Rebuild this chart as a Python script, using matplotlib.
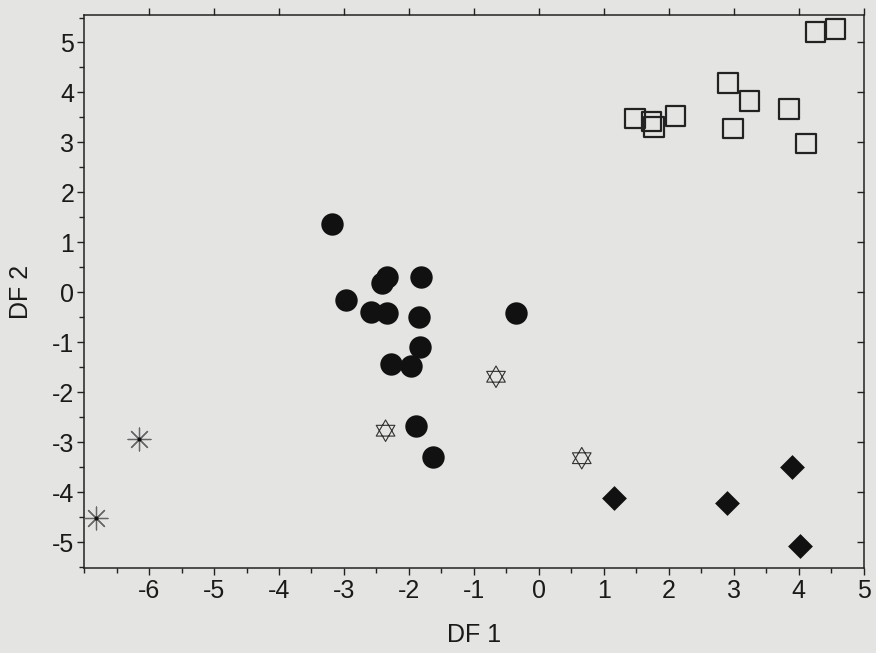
import numpy as np
import matplotlib.pyplot as plt
from matplotlib.path import Path
from matplotlib.ticker import MultipleLocator

plt.rcParams['font.family'] = ['Liberation Sans', 'DejaVu Sans']
plt.rcParams['axes.unicode_minus'] = False

# Gruppe 1: gefuellte Kreise
circ_x = [-3.18, -2.34, -2.41, -1.82, -2.97, -2.59, -2.34, -1.85, -0.35,
          -1.83, -2.27, -1.97, -1.89, -1.63]
circ_y = [1.36, 0.30, 0.18, 0.31, -0.15, -0.40, -0.42, -0.49, -0.42,
          -1.10, -1.43, -1.48, -2.67, -3.30]

# Gruppe 2: offene Quadrate
sq_x = [1.48, 1.73, 1.77, 2.10, 2.91, 3.24, 2.99, 3.85, 4.11, 4.26, 4.57]
sq_y = [3.48, 3.42, 3.31, 3.53, 4.19, 3.83, 3.28, 3.67, 2.98, 5.21, 5.27]

# Gruppe 3: Davidsterne
star_x = [-0.66, -2.36, 0.66]
star_y = [-1.69, -2.77, -3.32]

# Gruppe 4: Rauten
dia_x = [1.15, 2.90, 3.90, 4.02]
dia_y = [-4.12, -4.22, -3.49, -5.07]

# Gruppe 5: Sternchen
ast_x = [-6.16, -6.81]
ast_y = [-2.94, -4.52]

x_ticks = list(range(-6, 6))
y_ticks = list(range(-5, 6))

# Hexagramm als eigener Marker (zwei Dreiecke)
ang_up = np.deg2rad([90, 210, 330])
ang_dn = np.deg2rad([270, 30, 150])
verts = [(np.cos(a), np.sin(a)) for a in ang_up] + [(0, 0)]
verts += [(np.cos(a), np.sin(a)) for a in ang_dn] + [(0, 0)]
codes = [Path.MOVETO, Path.LINETO, Path.LINETO, Path.CLOSEPOLY] * 2
hexagram = Path(verts, codes)

bg = '#e4e4e2'
fig = plt.figure(figsize=(8.76, 6.53), dpi=100, facecolor=bg)
ax = fig.add_axes([0.096, 0.130, 0.890, 0.847])
ax.set_facecolor(bg)

ax.scatter(circ_x, circ_y, s=260, marker='o', color='#111111', lw=0, zorder=3)
ax.scatter(sq_x, sq_y, s=195, marker='s', facecolor='none',
           edgecolor='#222222', lw=1.6, zorder=3)
ax.scatter(star_x, star_y, s=240, marker=hexagram, facecolor='none',
           edgecolor='#333333', lw=0.8, zorder=3)
ax.scatter(dia_x, dia_y, s=160, marker='D', color='#111111', lw=0, zorder=3)
ax.scatter(ast_x, ast_y, s=270, marker=(8, 2, 0), color='#666666',
           lw=0.9, zorder=3)
ax.scatter(ast_x, ast_y, s=8, marker='o', color='#111111', lw=0, zorder=4)

ax.set_xlim(-7, 5)
ax.set_ylim(-5.52, 5.55)
ax.set_xticks(x_ticks)
ax.set_yticks(y_ticks)
ax.xaxis.set_minor_locator(MultipleLocator(0.5))
ax.yaxis.set_minor_locator(MultipleLocator(0.5))

for s in ax.spines.values():
    s.set_linewidth(1.1)
    s.set_color('#222222')

ax.tick_params(which='major', direction='out', length=5, width=1.0,
               color='#222222', labelsize=18, labelcolor='#1a1a1a',
               pad=2, top=True, right=False)
ax.tick_params(which='minor', direction='out', length=3.5, width=1.0,
               color='#222222', top=False, right=False)
ax.tick_params(axis='x', which='major', pad=3)

# rechte Achse: nur Haupt-Ticks nach innen
rax = ax.secondary_yaxis('right')
rax.set_yticks(y_ticks)
rax.tick_params(direction='in', length=5, width=1.0, color='#222222',
                labelright=False)
rax.spines['right'].set_visible(False)

ax.set_xlabel('DF 1', fontsize=18, color='#1a1a1a', labelpad=14)
ax.set_ylabel('DF 2', fontsize=18, color='#1a1a1a', labelpad=14)

fig.savefig('out.png', dpi=100, facecolor=bg)
